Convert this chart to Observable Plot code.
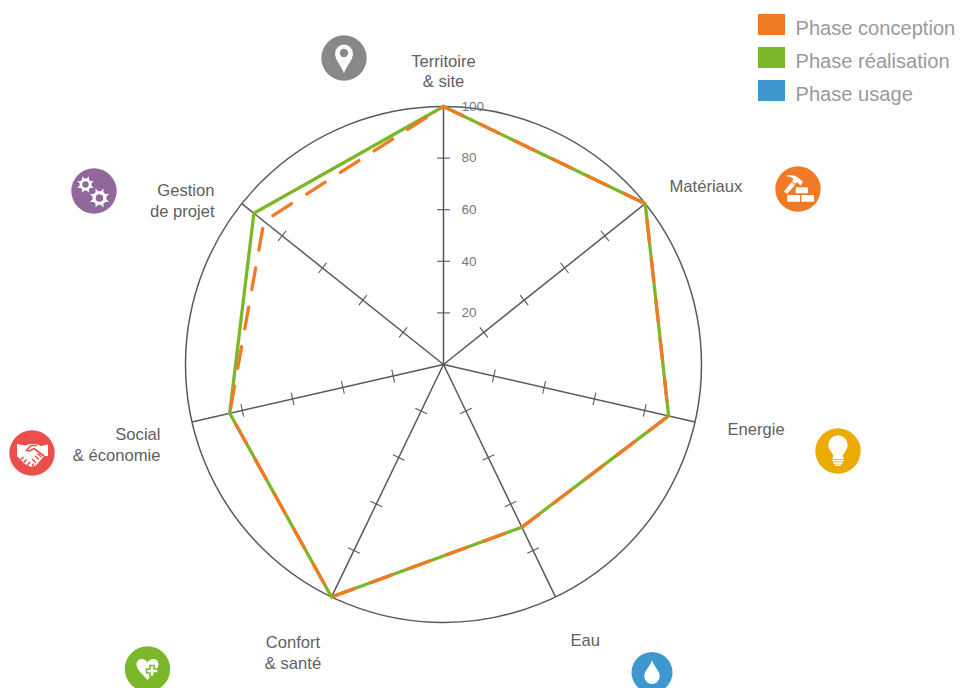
<!DOCTYPE html>
<html>
<head>
<meta charset="utf-8">
<script src="https://cdn.jsdelivr.net/npm/d3@7"></script>
<script src="https://cdn.jsdelivr.net/npm/@observablehq/plot@0.6"></script>
<style>html,body{margin:0;padding:0;background:#fff;overflow:hidden}svg{display:block}</style>
</head>
<body>
<div id="chart"></div>
<script>
const categories = ["Territoire\n& site","Matériaux","Energie","Eau","Confort\n& santé","Social\n& économie","Gestion\nde projet"];
const conception = [100,100,89.5,70,100,85,89];
const realisation = [100,100,89.5,70,100,85,94];
const tickValues = [20,40,60,80];
const tickLabels = [20,40,60,80,100];
const legendNames = ["Phase conception","Phase réalisation","Phase usage"];
const legendColors = ["#F07A25","#7AB82A","#3F97CF"];

// layout
const W = 976, H = 688, CX = 443, CY = 364, K = 2.58;
const ux = px => (px - CX) / K, uy = py => (CY - py) / K;
const ang = i => i * 2 * Math.PI / categories.length;
const pol = (v, i) => [v * Math.sin(ang(i)), v * Math.cos(ang(i))];
const closed = vals => [...vals, vals[0]].map((v, i) => pol(v, i));
const spokes = categories.map((c, i) => pol(100, i));
const ticks = categories.slice().flatMap((c, i) => tickValues.map(v => {
  const [x, y] = pol(v, i), t = 2.5;
  const a = ang(i);
  return {x1: x - t * Math.cos(a), y1: y + t * Math.sin(a), x2: x + t * Math.cos(a), y2: y - t * Math.sin(a)};
}));
const labelLayout = [
  {x:443,y:70,a:"middle"},{x:669,y:185,a:"start"},{x:727,y:428,a:"start"},{x:570,y:639,a:"start"},
  {x:292.5,y:651.5,a:"middle"},{x:160,y:443.5,a:"end"},{x:214,y:199.5,a:"end"}
].map((d,i)=>({...d,text:categories[i]}));
const legendY = [24.5,57.5,90.5];

const gear = (r1, r2, n) => {
  let p = [];
  for (let i = 0; i < n; i++) {
    const a = i * 2 * Math.PI / n, w = Math.PI / n;
    for (const [r, s] of [[r1,-w*.95],[r2,-w*.5],[r2,w*.5],[r1,w*.95]]) p.push([r*Math.cos(a+s), r*Math.sin(a+s)]);
  }
  return "M" + p.map(q => q[0].toFixed(2)+","+q[1].toFixed(2)).join("L") + "Z";
};
const icons = [
  {x:344,y:58,r:22.7,c:"#888888",g:`<path fill="#fff" d="M0,15C-2.5,8 -9,2 -9,-4.5A9,9 0 1 1 9,-4.5C9,2 2.5,8 0,15Z"/><circle cy="-5" r="4.2" fill="#888888"/>`},
  {x:798,y:189,r:22.7,c:"#F07A25",g:`<g fill="#fff"><path d="M-12.5,-13C-6,-15.5 0,-12.5 5,-7L2.5,-3.5L-1,-7L-3,-5L-6,-8L-4.5,-10C-6.5,-12 -9,-12.5 -12.5,-13Z"/><path d="M-6.5,-7L-3,-4L-11,5L-14,2.5Z"/><rect x="-2.3" y="-1.7" width="12.3" height="6" rx=".6"/><rect x="-10.7" y="6" width="12.7" height="6.7" rx=".6"/><rect x="3.3" y="6" width="12.7" height="6.7" rx=".6"/></g>`},
  {x:838,y:451,r:22.7,c:"#EBAB00",g:`<g fill="#fff"><path d="M-4.5,7C-4.5,2 -9.7,-1 -9.7,-6A9.7,9.7 0 0 1 9.7,-6C9.7,-1 4.5,2 4.5,7Z"/><rect x="-5.5" y="6" width="11" height="2"/></g><g fill="#fff"><rect x="-5.5" y="8.8" width="11" height="1.6"/><rect x="-4.8" y="11.2" width="9.6" height="1.5"/><rect x="-3" y="13.4" width="6" height="1.5"/></g>`},
  {x:652,y:672.5,r:20.5,c:"#3F97CF",g:`<path fill="#fff" d="M0,-12.5C1,-7 7.7,-2 7.7,3.7A7.7,7.7 0 0 1 -7.7,3.7C-7.7,-2 -1,-7 0,-12.5Z"/>`},
  {x:147.5,y:669,r:22.7,c:"#7AB82A",g:`<path fill="#fff" d="M0,11C-4,6 -11,1 -11,-4.5C-11,-8 -8.5,-10 -6,-10C-3.5,-10 -1.2,-8.5 0,-6.5C1.2,-8.5 3.5,-10 6,-10C8.5,-10 11,-8 11,-4.5C11,1 4,6 0,11Z"/><path fill="#fff" stroke="#7AB82A" stroke-width="1.5" d="M2.5,-3.5h4v3.5h4v4h-4v3.5h-4v-3.5h-3.5v-4h3.5Z"/>`},
  {x:32,y:453,r:22.7,c:"#EC4F4B",g:`<path fill="#fff" d="M-15,-9L-7,-7.5L-2,-9L4,-9L9,-7L16,-8.5L16,3L12,3L4,12.5L-1,14L-7,11L-12,6L-15,3Z"/><path fill="none" stroke="#EC4F4B" stroke-width="1.6" d="M12,3L2,-4.5L-2,-2L-5.5,-2.5L-1,-7.5L5,-7.5M-11,6.5L-8.5,4M-8,9.5L-5.5,6.5M-4.5,12L-2,9M0,13L2,10.5M4,9.5L0,6M7,6.5L3,3M9.5,4L5.5,0.5"/>`},
  {x:94,y:191,r:22.7,c:"#91689B",g:`<g transform="translate(-8.5,-6.5)"><path fill="#fff" d="${gear(8.5,6,8)}"/><circle r="3.2" fill="#91689B"/></g><g transform="translate(5.5,7)"><path fill="#fff" d="${gear(10,7,8)}"/><circle r="3.8" fill="#91689B"/></g>`}
];
const iconMark = (index, {x, y}) => {
  const g = d3.create("svg:g");
  for (const d of icons) {
    const it = g.append("g").attr("transform", `translate(${x(ux(d.x))},${y(uy(d.y))})`);
    it.append("circle").attr("r", d.r).attr("fill", d.c);
    it.append("g").html(d.g);
  }
  return g.node();
};
const labelMark = anchor => Plot.text(labelLayout.filter(d => d.a === anchor), {
  x: d => ux(d.x), y: d => uy(d.y), text: "text", textAnchor: anchor, fill: "#5F6062", fontSize: 16.6, lineHeight: 1.22
});

const plot = Plot.plot({
  width: W, height: H, margin: 0,
  style: {background: "#fff", fontFamily: "'Liberation Sans',Arial,sans-serif"},
  x: {type: "linear", domain: [ux(0), ux(W)], range: [0, W], axis: null},
  y: {type: "linear", domain: [uy(H), uy(0)], range: [H, 0], axis: null},
  marks: [
    Plot.dot([[0,0]], {x: d => d[0], y: d => d[1], r: 100 * K, stroke: "#58595B", strokeWidth: 1.5, fill: "none"}),
    Plot.link(spokes, {x1: () => 0, y1: () => 0, x2: d => d[0], y2: d => d[1], stroke: "#58595B", strokeWidth: 1.5}),
    Plot.link(ticks, {x1: "x1", y1: "y1", x2: "x2", y2: "y2", stroke: "#58595B", strokeWidth: 1.1}),
    Plot.text(tickLabels, {x: () => ux(461), y: d => d, text: d => String(d), textAnchor: "start", fill: "#77787B", fontSize: 13.5}),
    Plot.line(closed(realisation), {x: d => d[0], y: d => d[1], stroke: legendColors[1], strokeWidth: 3.3, strokeLinejoin: "round"}),
    Plot.line(closed(conception), {x: d => d[0], y: d => d[1], stroke: legendColors[0], strokeWidth: 3.3, strokeLinejoin: "round", strokeDasharray: "22 18"}),
    labelMark("middle"), labelMark("start"), labelMark("end"),
    iconMark,
    Plot.rect(legendNames, {x1: () => ux(758), x2: () => ux(785), y1: (d,i) => uy(legendY[i]-10.5), y2: (d,i) => uy(legendY[i]+10.5), fill: (d,i) => legendColors[i]}),
    Plot.text(legendNames, {x: () => ux(795), y: (d,i) => uy(legendY[i]+4), text: d => d, textAnchor: "start", fill: "#999A9C", fontSize: 20.1})
  ]
});
document.getElementById("chart").append(plot);
</script>
</body>
</html>
